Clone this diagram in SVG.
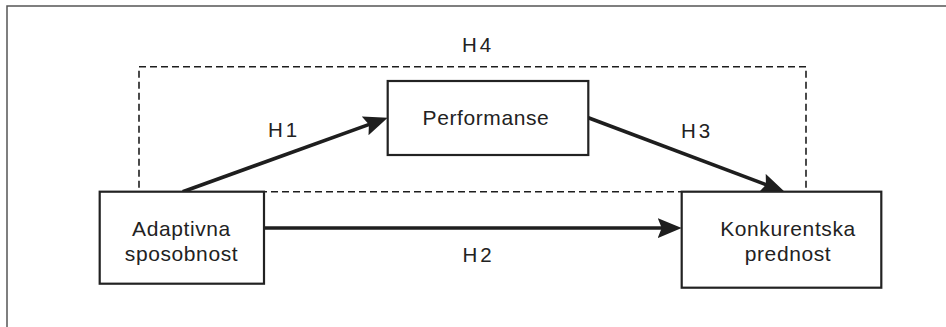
<svg xmlns="http://www.w3.org/2000/svg" width="946" height="327" viewBox="0 0 946 327">
  <style>
    .box { fill: #ffffff; stroke: #222222; stroke-width: 2.2; }
    .txt { font-family: "Liberation Sans", Arial, sans-serif; font-size: 21px; fill: #222222; text-anchor: middle; letter-spacing: 0.6px; }
    .lbl { font-family: "Liberation Sans", Arial, sans-serif; font-size: 20.5px; fill: #222222; text-anchor: middle; letter-spacing: 3px; }
    .arr { fill: none; stroke: #1e1e1e; stroke-width: 3.6; marker-end: url(#ah); }
    .dash { fill: none; stroke: #1e1e1e; stroke-width: 1.6; stroke-dasharray: 7 4; }
  </style>
  <defs>
    <marker id="ah" markerUnits="userSpaceOnUse" markerWidth="26" markerHeight="22" refX="14" refY="10" orient="auto" viewBox="0 0 26 22">
      <path d="M0,0 L24,10 L0,20 L4,10 Z" fill="#1e1e1e"/>
    </marker>
  </defs>
  <rect x="0" y="0" width="946" height="327" fill="#ffffff"/>
  <path d="M7,327 V6 H946" fill="none" stroke="#555555" stroke-width="1.5"/>
  <g id="frame-h4">
    <rect class="dash" x="139" y="66.7" width="667" height="125"/>
    <text class="lbl" x="478" y="51.7">H4</text>
  </g>
  <g id="connectors">
    <line class="arr" x1="182.7" y1="191.7" x2="378.3" y2="121.1"/>
    <line class="arr" x1="588.3" y1="117.7" x2="775.3" y2="188.2"/>
    <line class="arr" x1="264" y1="228" x2="671.7" y2="228"/>
    <text class="lbl" x="284" y="137">H1</text>
    <text class="lbl" x="697" y="137.7">H3</text>
    <text class="lbl" x="478.5" y="262.3">H2</text>
  </g>
  <g id="node-adaptivna">
    <rect class="box" x="99.7" y="191.7" width="164.3" height="92"/>
    <text class="txt" x="181.5" y="235.7">Adaptivna</text>
    <text class="txt" x="181.5" y="260.5">sposobnost</text>
  </g>
  <g id="node-performanse">
    <rect class="box" x="387.7" y="81" width="200.6" height="74"/>
    <text class="txt" x="486" y="125">Performanse</text>
  </g>
  <g id="node-konkurentska">
    <rect class="box" x="681.7" y="191.7" width="199.6" height="96"/>
    <text class="txt" x="788" y="235.7">Konkurentska</text>
    <text class="txt" x="788" y="261">prednost</text>
  </g>
</svg>
